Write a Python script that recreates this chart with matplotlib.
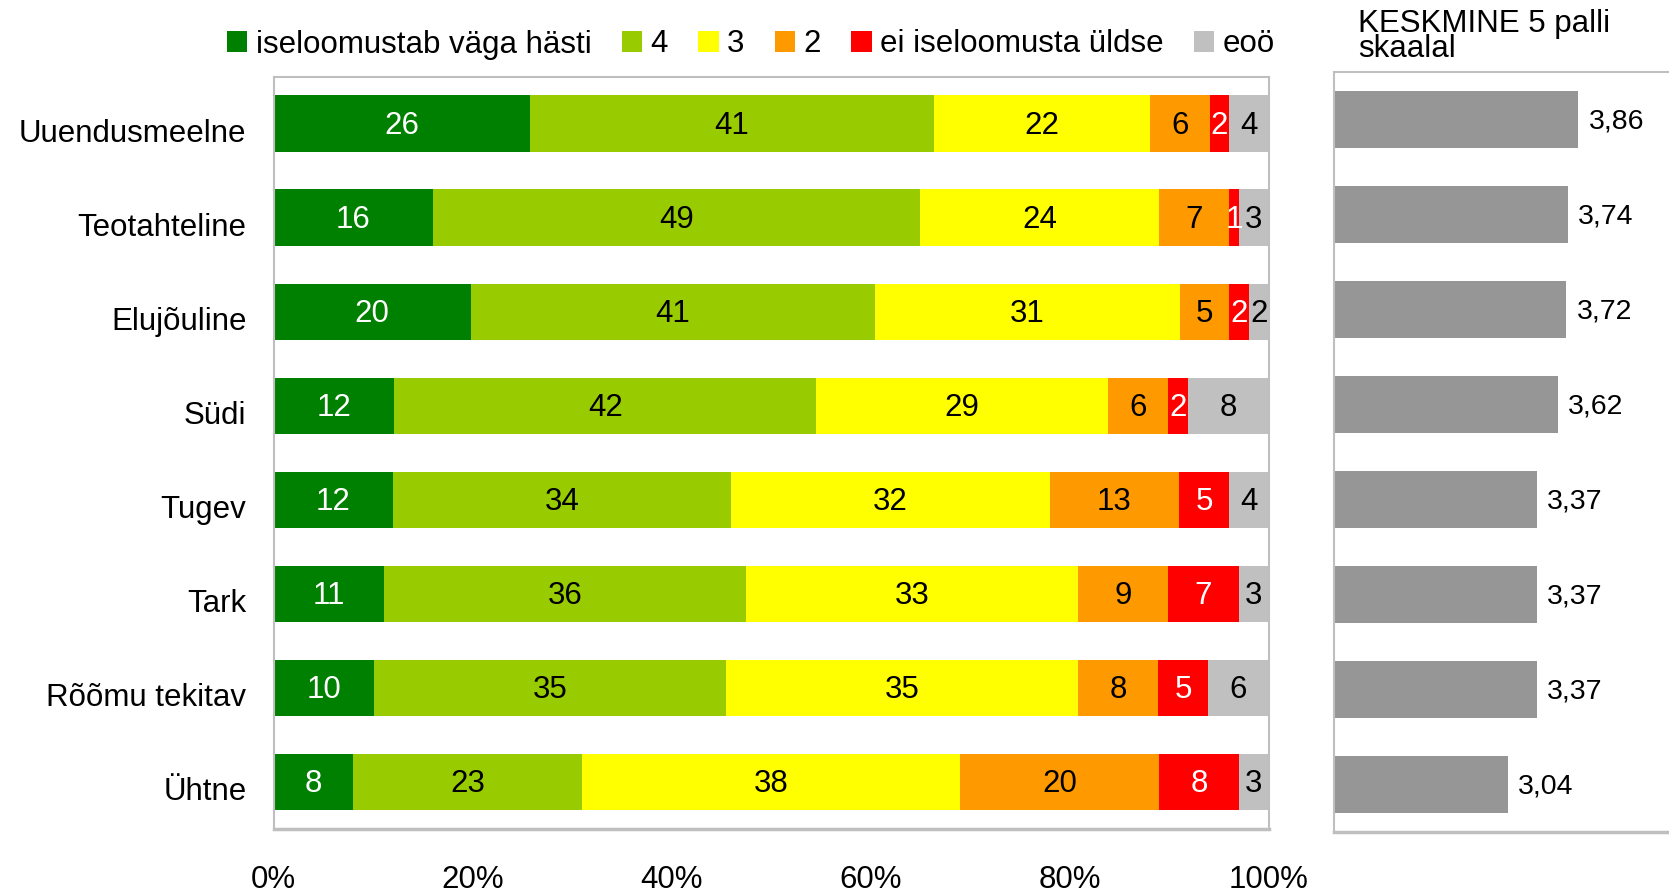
import matplotlib
matplotlib.use("Agg")
import matplotlib.pyplot as plt
import matplotlib.transforms as mtransforms
from matplotlib.patches import Patch
import numpy as np

plt.rcParams['font.family'] = ['Liberation Sans', 'DejaVu Sans']

categories = ["Uuendusmeelne", "Teotahteline", "Elujõuline", "Südi",
              "Tugev", "Tark", "Rõõmu tekitav", "Ühtne"]
series_names = ["iseloomustab väga hästi", "4", "3", "2",
                "ei iseloomusta üldse", "eoö"]
v_5 = [26, 16, 20, 12, 12, 11, 10, 8]
v_4 = [41, 49, 41, 42, 34, 36, 35, 23]
v_3 = [22, 24, 31, 29, 32, 33, 35, 38]
v_2 = [6, 7, 5, 6, 13, 9, 8, 20]
v_1 = [2, 1, 2, 2, 5, 7, 5, 8]
v_eoo = [4, 3, 2, 8, 4, 3, 6, 3]
means = [3.86, 3.74, 3.72, 3.62, 3.37, 3.37, 3.37, 3.04]
x_ticks = [0, 20, 40, 60, 80, 100]
x_tick_labels = ["0%", "20%", "40%", "60%", "80%", "100%"]
right_title = "KESKMINE 5 palli\nskaalal"

colors = ["#008000", "#99CC00", "#FFFF00", "#FF9900", "#FF0000", "#C0C0C0"]
text_colors = ["white", "black", "black", "black", "white", "black"]

FS = 22.5
W, H = 1669, 890
fig = plt.figure(figsize=(W / 100, H / 100), dpi=100)

ax = fig.add_axes([273.5 / W, 1 - 829 / H, (1268.7 - 273.5) / W, (829 - 76.6) / H])
data = np.array([v_5, v_4, v_3, v_2, v_1, v_eoo], dtype=float)
totals = data.sum(axis=0)
pct = data / totals * 100
y = np.arange(len(categories))
left = np.zeros(len(categories))
for i in range(len(series_names)):
    bars = ax.barh(y, pct[i], left=left, height=0.6, color=colors[i],
                   label=series_names[i], linewidth=0)
    for j, b in enumerate(bars):
        ax.annotate(f"{int(data[i][j])}", xy=(left[j] + pct[i][j] / 2, y[j]),
                    xytext=(0, -2), textcoords="offset pixels",
                    ha="center", va="center", fontsize=FS, color=text_colors[i])
    left += pct[i]

ax.set_xlim(0, 100)
ax.set_ylim(len(categories) - 0.5, -0.5)
ax.set_xticks(x_ticks)
ax.set_xticklabels(x_tick_labels, fontsize=FS)
ax.set_yticks(y)
ax.set_yticklabels(categories, fontsize=FS)
ax.tick_params(axis="both", length=0)
ax.tick_params(axis="y", pad=19.5)
ax.tick_params(axis="x", pad=26)
off = mtransforms.ScaledTranslation(0, -7 / 100, fig.dpi_scale_trans)
for lab in ax.get_yticklabels():
    lab.set_transform(lab.get_transform() + off)
for s in ax.spines.values():
    s.set_color("#BFBFBF")
    s.set_linewidth(1.5)
ax.spines["bottom"].set_linewidth(2.5)

# Right panel: means
ax2 = fig.add_axes([1333.7 / W, 1 - 832 / H, 342.3 / W, (832 - 72.4) / H])
ax2.barh(y, np.array(means) - 1, left=1, height=0.6, color="#969696", linewidth=0)
for j, m in enumerate(means):
    ax2.annotate(f"{m:.2f}".replace(".", ","), xy=(m, y[j]), xytext=(10, -2),
                 textcoords="offset pixels", ha="left", va="center",
                 fontsize=20.5, color="black")
ax2.set_xlim(1, 5)
ax2.set_ylim(len(categories) - 0.5, -0.5)
ax2.set_xticks([])
ax2.set_yticks([])
for s in ax2.spines.values():
    s.set_color("#BFBFBF")
    s.set_linewidth(1.5)
ax2.spines["right"].set_visible(False)
ax2.spines["bottom"].set_linewidth(2.5)

fig.text(1358 / W, 1 - 36.5 / H, right_title, ha="left", va="center",
         fontsize=FS, linespacing=0.8)

handles = [Patch(facecolor=c, edgecolor="none") for c in colors]
fig.legend(handles, series_names, loc="center", bbox_to_anchor=(751 / W, 1 - 44.5 / H),
           ncol=6, frameon=False, fontsize=FS, handlelength=0.65, handleheight=0.65,
           handletextpad=0.27, columnspacing=0.97, borderpad=0, borderaxespad=0)

fig.savefig("out.png", dpi=100)
